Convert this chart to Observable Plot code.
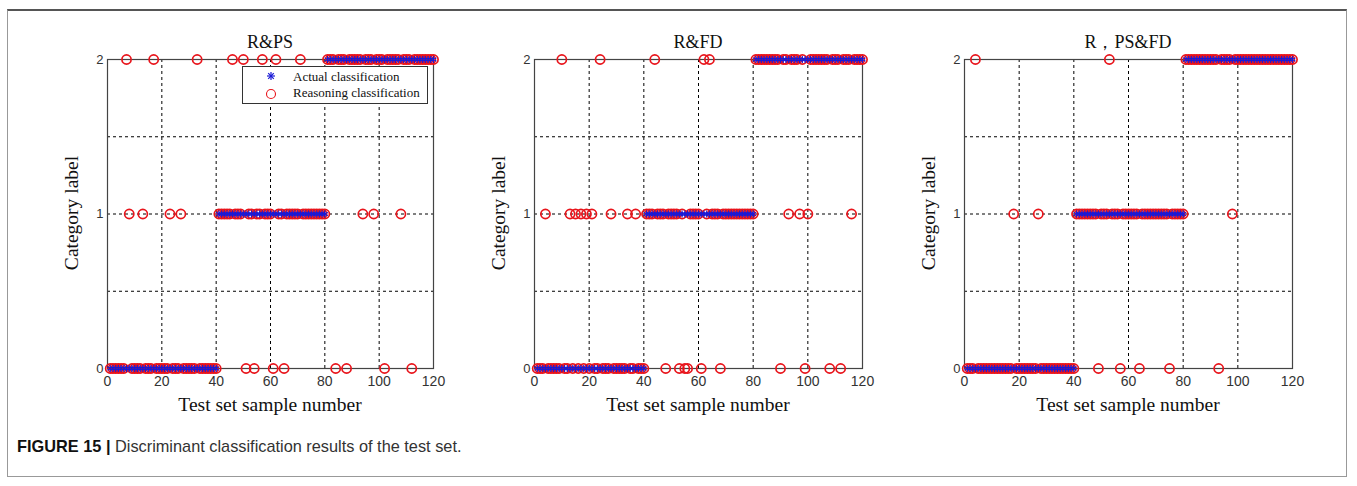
<!DOCTYPE html>
<html><head><meta charset="utf-8">
<script src="https://cdn.jsdelivr.net/npm/d3@7"></script>
<script src="https://cdn.jsdelivr.net/npm/@observablehq/plot@0.6"></script>
<style>
body{margin:0;background:#fff;}
#wrap{position:relative;width:1357px;height:486px;overflow:hidden;background:#fff;}
.border{position:absolute;left:7px;top:9px;width:1340px;height:468px;border:1px solid #999;border-top:2px solid #555;box-sizing:border-box;}
.panel{position:absolute;top:0;}
.t{position:absolute;font-family:"Liberation Serif","Times New Roman",serif;color:#111;white-space:nowrap;transform:translate(-50%,-50%);}
.title{font-size:18px;}
.xl{font-size:19.5px;}
.yl{font-size:19.5px;transform:translate(-50%,-50%) rotate(-90deg);}
.legend{position:absolute;left:242px;top:66px;width:186px;height:38px;border:1px solid #333;background:#fff;box-sizing:border-box;font-family:"Liberation Serif",serif;font-size:13px;color:#111;}
.legend svg{position:absolute;left:0;top:0;}
.legend div{position:absolute;left:50px;white-space:nowrap;}
.caption{position:absolute;left:17px;top:437px;font-family:"Liberation Sans",Arial,sans-serif;font-size:17px;color:#333;white-space:nowrap;transform:scaleX(0.96);transform-origin:left center;}
.caption b{color:#111;}
</style>
</head><body>
<div id="wrap">
  <div class="border"></div>
</div>
<script>
// ---- data ----
const panelTitles = ["R&PS", "R&FD", "R，PS&FD"];
const xTicks = [0, 20, 40, 60, 80, 100, 120];
const xGrid = [20, 40, 60, 80, 100];
const yTicks = [0, 1, 2];
const yGrid = [0.5, 1, 1.5];
const sampleNumbers = d3.range(1, 121);
// actual class of test samples 1..120
const actualClass = [
  0,0,0,0,0,0,0,0,0,0,0,0,0,0,0,0,0,0,0,0,0,0,0,0,0,0,0,0,0,0,0,0,0,0,0,0,0,0,0,0,
  1,1,1,1,1,1,1,1,1,1,1,1,1,1,1,1,1,1,1,1,1,1,1,1,1,1,1,1,1,1,1,1,1,1,1,1,1,1,1,1,
  2,2,2,2,2,2,2,2,2,2,2,2,2,2,2,2,2,2,2,2,2,2,2,2,2,2,2,2,2,2,2,2,2,2,2,2,2,2,2,2
];
// misclassified samples: [sample, predicted class]
const errorsRPS = [[7,2],[17,2],[33,2],[8,1],[13,1],[23,1],[27,1],
  [46,2],[50,2],[57,2],[62,2],[71,2],[51,0],[54,0],[61,0],[65,0],
  [94,1],[98,1],[108,1],[84,0],[88,0],[102,0],[112,0]];
const errorsRFD = [[10,2],[24,2],[4,1],[13,1],[15,1],[17,1],[19,1],[21,1],[28,1],[34,1],[37,1],
  [44,2],[62,2],[64,2],[48,0],[53,0],[55,0],[56,0],[61,0],[68,0],
  [93,1],[97,1],[100,1],[116,1],[90,0],[99,0],[108,0],[112,0]];
const errorsRPSFD = [[4,2],[18,1],[27,1],[53,2],[49,0],[57,0],[64,0],[75,0],[98,1],[93,0]];
const panelErrors = [errorsRPS, errorsRFD, errorsRPSFD];
const legendLabels = ["Actual classification", "Reasoning classification"];
const captionBold = "FIGURE 15 |";
const captionText = " Discriminant classification results of the test set.";
const xLabel = "Test set sample number";
const yLabel = "Category label";

// ---- layout ----
const panels = [
  {x0: 107, w: 326},
  {x0: 534, w: 328},
  {x0: 964, w: 328}
];
const plotTop = 59, plotBottom = 368, plotH = 400;
const mL = 40, mR = 20;
const red = "#e8141b", blue = "#1a1ad6";
const wrap = document.getElementById("wrap");

function addText(cls, txt, x, y){
  const d = document.createElement("div");
  d.className = "t " + cls;
  d.textContent = txt;
  d.style.left = x + "px"; d.style.top = y + "px";
  wrap.appendChild(d);
}

panels.forEach((p, i) => {
  const errMap = new Map(panelErrors[i]);
  const rows = sampleNumbers.map((s, k) => ({
    sample: s,
    actual: actualClass[k],
    pred: errMap.has(s) ? errMap.get(s) : actualClass[k]
  }));
  const chart = Plot.plot({
    width: mL + p.w + mR,
    height: plotH,
    marginLeft: mL, marginRight: mR,
    marginTop: plotTop, marginBottom: plotH - plotBottom,
    style: {background: "transparent", overflow: "visible"},
    x: {domain: [0, 120], label: null},
    y: {domain: [0, 2], label: null},
    marks: [
      Plot.ruleX(xGrid, {x: d => d, stroke: "#000", strokeDasharray: "3,3", strokeWidth: 1}),
      Plot.ruleY(yGrid, {y: d => d, stroke: "#000", strokeDasharray: "3,3", strokeWidth: 1}),
      Plot.frame({stroke: "#444", strokeWidth: 1.2}),
      Plot.axisX({ticks: xTicks, tickSize: 0, tickPadding: 8, fontSize: 14, fill: "#333", fontFamily: "Liberation Sans, Arial, sans-serif", label: null}),
      Plot.axisY({ticks: yTicks, tickFormat: d3.format("d"), tickSize: 0, tickPadding: 4, fontSize: 13, fill: "#333", fontFamily: "Liberation Sans, Arial, sans-serif", label: null}),
      Plot.dot(rows, {x: "sample", y: "pred", r: 4.6, stroke: red, strokeWidth: 1.7, fill: "none"}),
      Plot.dot(rows, {x: "sample", y: "actual", symbol: "asterisk", r: 3.2, stroke: blue, strokeWidth: 1.1})
    ]
  });
  const holder = document.createElement("div");
  holder.className = "panel";
  holder.style.left = (p.x0 - mL) + "px";
  holder.appendChild(chart);
  wrap.appendChild(holder);
  const cx = p.x0 + p.w / 2;
  addText("title", panelTitles[i], cx, 42);
  addText("xl", xLabel, cx, 405);
  addText("yl", yLabel, p.x0 - 35, 213);
});

// legend (panel 1)
const lg = document.createElement("div");
lg.className = "legend";
lg.innerHTML = `<svg width="50" height="38">
  <g stroke="${blue}" stroke-width="1.2">
    <line x1="28" y1="5" x2="28" y2="13"/><line x1="24" y1="9" x2="32" y2="9"/>
    <line x1="25.2" y1="6.2" x2="30.8" y2="11.8"/><line x1="25.2" y1="11.8" x2="30.8" y2="6.2"/>
  </g>
  <circle cx="28" cy="27" r="4.5" fill="none" stroke="${red}" stroke-width="1.1"/>
</svg><div style="top:2px">${legendLabels[0]}</div><div style="top:18px">${legendLabels[1]}</div>`;
wrap.appendChild(lg);

const cap = document.createElement("div");
cap.className = "caption";
cap.innerHTML = `<b></b><span></span>`;
cap.querySelector("b").textContent = captionBold;
cap.querySelector("span").textContent = captionText;
wrap.appendChild(cap);
</script>
</body></html>
